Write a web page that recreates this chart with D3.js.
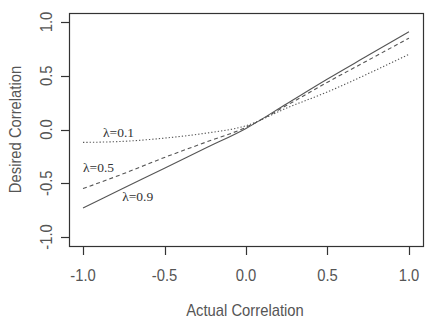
<!DOCTYPE html>
<html>
  <head>
    <meta charset="utf-8">
    <title>Desired vs Actual Correlation</title>
    <style type="text/css">
body { margin: 0; background: #fff; }
.axis-text { font-family: "Liberation Sans", Arial, sans-serif; fill: #555; }
.lam { font-family: "Liberation Serif", "Times New Roman", serif; font-size: 13.5px; fill: #333; }
    </style>
    <script src="https://cdn.jsdelivr.net/npm/d3@7"></script>
  </head>
  <body>
    <div id="chart"></div>
    <script type="text/javascript">
      // Data
      var actual = [-1.0, -0.75, -0.5, -0.25, 0.0, 0.25, 0.5, 0.75, 1.0];
      var lambda01 = [-0.12, -0.11, -0.08, -0.035, 0.035, 0.20, 0.35, 0.52, 0.70];
      var lambda05 = [-0.55, -0.41, -0.26, -0.12, 0.02, 0.225, 0.44, 0.645, 0.85];
      var lambda09 = [-0.73, -0.545, -0.36, -0.175, 0.01, 0.24, 0.47, 0.69, 0.91];
      var seriesNames = ["λ=0.1", "λ=0.5", "λ=0.9"];
      var labelX = [-0.877, -1.0, -0.76];
      var labelY = [-0.07, -0.40, -0.665];
      var xTicks = [-1.0, -0.5, 0.0, 0.5, 1.0];
      var yTicks = [-1.0, -0.5, 0.0, 0.5, 1.0];

      var w = 436, h = 323;
      var x = d3.scaleLinear().domain([-1.086, 1.086]).range([69, 423]);
      var y = d3.scaleLinear().domain([-1.084, 1.084]).range([246, 13]);
      var sx = 0.87; // text in the picture is horizontally squeezed

      var svg = d3.select("#chart").append("svg")
           .attr("width", w)
           .attr("height", h);

      // box
      svg.append("rect")
           .attr("x", x.range()[0] + 0.5)
           .attr("y", y.range()[1] + 0.5)
           .attr("width", x.range()[1] - x.range()[0])
           .attr("height", y.range()[0] - y.range()[1])
           .attr("fill", "none")
           .attr("stroke", "#333")
           .attr("stroke-width", 1.2);

      // x axis ticks + labels
      var bottom = y.range()[0];
      svg.selectAll(".xtick").data(xTicks).enter().append("line")
           .attr("x1", function(d) { return Math.round(x(d)) + 0.5; })
           .attr("x2", function(d) { return Math.round(x(d)) + 0.5; })
           .attr("y1", bottom + 1)
           .attr("y2", bottom + 9)
           .attr("stroke", "#333")
           .attr("stroke-width", 1.2);
      svg.selectAll(".xlab").data(xTicks).enter().append("text")
           .attr("class", "axis-text")
           .attr("font-size", 17)
           .attr("text-anchor", "middle")
           .attr("transform", function(d) { return "translate(" + x(d) + "," + 281 + ") scale(" + sx + ",1)"; })
           .text(function(d) { return d.toFixed(1); });

      // y axis ticks + labels
      var left = x.range()[0];
      svg.selectAll(".ytick").data(yTicks).enter().append("line")
           .attr("x1", left - 8)
           .attr("x2", left)
           .attr("y1", function(d) { return Math.round(y(d)) + 0.5; })
           .attr("y2", function(d) { return Math.round(y(d)) + 0.5; })
           .attr("stroke", "#333")
           .attr("stroke-width", 1.2);
      svg.selectAll(".ylab").data(yTicks).enter().append("text")
           .attr("class", "axis-text")
           .attr("font-size", 17)
           .attr("text-anchor", "middle")
           .attr("transform", function(d) { return "translate(52," + y(d) + ") rotate(-90) scale(" + sx + ",1)"; })
           .text(function(d) { return d.toFixed(1); });

      // axis titles
      svg.append("text")
           .attr("class", "axis-text")
           .attr("font-size", 17)
           .attr("text-anchor", "middle")
           .attr("transform", "translate(245,316) scale(" + sx + ",1)")
           .text("Actual Correlation");
      svg.append("text")
           .attr("class", "axis-text")
           .attr("font-size", 17)
           .attr("text-anchor", "middle")
           .attr("transform", "translate(21,129.5) rotate(-90) scale(" + sx + ",1)")
           .text("Desired Correlation");

      // series
      var series = [lambda01, lambda05, lambda09];
      var dashes = ["1.3,2", "4,3", null];
      var line = d3.line()
           .x(function(d, i) { return x(actual[i]); })
           .y(function(d) { return y(d); })
           .curve(d3.curveMonotoneX);

      svg.selectAll(".series").data(series).enter().append("path")
           .attr("d", line)
           .attr("fill", "none")
           .attr("stroke", "#555")
           .attr("stroke-width", 1.1)
           .attr("stroke-dasharray", function(d, i) { return dashes[i]; });

      svg.selectAll(".lam").data(seriesNames).enter().append("text")
           .attr("class", "lam")
           .attr("x", function(d, i) { return x(labelX[i]); })
           .attr("y", function(d, i) { return y(labelY[i]); })
           .text(function(d) { return d; });
    </script>
  </body>
</html>
